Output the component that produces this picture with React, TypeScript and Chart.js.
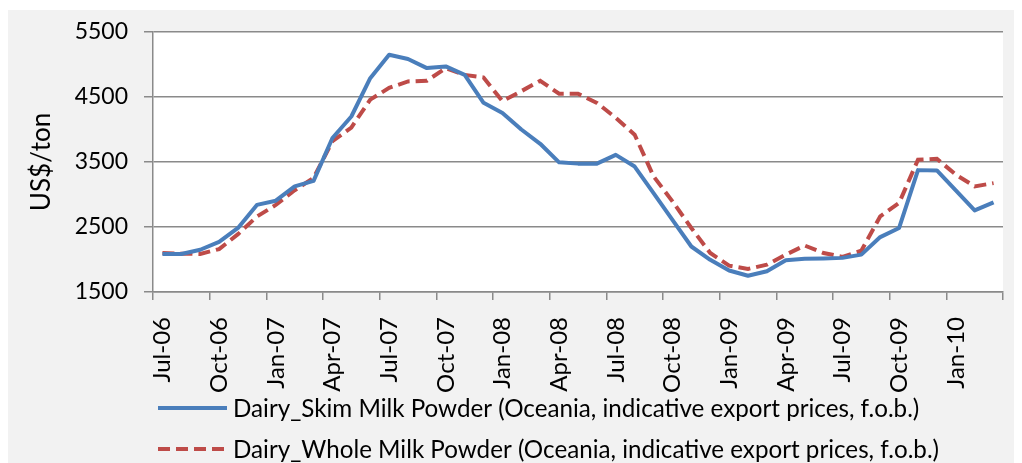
import React, { useEffect, useRef } from "react";
import { Chart, registerables } from "chart.js";

Chart.register(...registerables);

const months = [
  "Jul-06", "Aug-06", "Sep-06", "Oct-06", "Nov-06", "Dec-06",
  "Jan-07", "Feb-07", "Mar-07", "Apr-07", "May-07", "Jun-07",
  "Jul-07", "Aug-07", "Sep-07", "Oct-07", "Nov-07", "Dec-07",
  "Jan-08", "Feb-08", "Mar-08", "Apr-08", "May-08", "Jun-08",
  "Jul-08", "Aug-08", "Sep-08", "Oct-08", "Nov-08", "Dec-08",
  "Jan-09", "Feb-09", "Mar-09", "Apr-09", "May-09", "Jun-09",
  "Jul-09", "Aug-09", "Sep-09", "Oct-09", "Nov-09", "Dec-09",
  "Jan-10", "Feb-10", "Mar-10",
];

const skimMilkPowder = [
  2085, 2085, 2150, 2270, 2485, 2840, 2905, 3125, 3210, 3870,
  4200, 4790, 5150, 5085, 4945, 4970, 4840, 4410, 4255, 4000,
  3780, 3495, 3475, 3475, 3610, 3430, 3020, 2610, 2200, 1995,
  1830, 1750, 1820, 1990, 2010, 2015, 2025, 2075, 2345, 2485,
  3375, 3370, 3065, 2755, 2880,
];

const wholeMilkPowder = [
  2100, 2090, 2085, 2160, 2390, 2660, 2840, 3065, 3255, 3820,
  4030, 4460, 4640, 4740, 4750, 4945, 4840, 4800, 4435, 4590,
  4750, 4550, 4550, 4410, 4180, 3920, 3280, 2895, 2485, 2100,
  1905, 1855, 1920, 2075, 2215, 2100, 2040, 2135, 2665, 2870,
  3535, 3550, 3305, 3125, 3175,
];

const yTickValues = [1500, 2500, 3500, 4500, 5500];

const seriesNames = [
  "Dairy_Skim Milk Powder (Oceania, indicative export prices, f.o.b.)",
  "Dairy_Whole Milk Powder (Oceania, indicative export prices, f.o.b.)",
];

const yAxisTitle = "US$/ton";

const FONT = "Lato, 'Open Sans', sans-serif";
const GRID = "#8a8a8a";

const plotBackground = {
  id: "plotBackground",
  beforeDraw(chart: any) {
    const { ctx, chartArea } = chart;
    ctx.save();
    ctx.fillStyle = "#ffffff";
    ctx.fillRect(chartArea.left, chartArea.top, chartArea.right - chartArea.left, chartArea.bottom - chartArea.top);
    ctx.restore();
  },
};

const customLegend = {
  id: "customLegend",
  afterDraw(chart: any) {
    const { ctx } = chart;
    const startX = 150;
    const lineLen = 69;
    const textX = 225;
    const rowY = [398, 439];
    ctx.save();
    chart.data.datasets.forEach((ds: any, i: number) => {
      const y = rowY[i];
      ctx.beginPath();
      ctx.strokeStyle = ds.borderColor;
      ctx.lineWidth = ds.borderWidth;
      ctx.setLineDash(ds.borderDash || []);
      ctx.lineCap = "butt";
      ctx.moveTo(startX, y);
      ctx.lineTo(startX + lineLen, y);
      ctx.stroke();
      ctx.setLineDash([]);
      ctx.fillStyle = "#000000";
      ctx.font = `24.2px ${FONT}`;
      ctx.textBaseline = "middle";
      ctx.textAlign = "left";
      ctx.fillText(ds.label, textX, y + 1);
    });
    ctx.restore();
  },
};

export default function App() {
  const canvasRef = useRef<HTMLCanvasElement | null>(null);

  useEffect(() => {
    if (!canvasRef.current) return;
    const chart = new Chart(canvasRef.current, {
      type: "line",
      data: {
        labels: months,
        datasets: [
          {
            label: seriesNames[0],
            data: skimMilkPowder,
            borderColor: "#4A7EBB",
            backgroundColor: "#4A7EBB",
            borderWidth: 4,
            pointRadius: 0,
            tension: 0,
            borderJoinStyle: "round",
          },
          {
            label: seriesNames[1],
            data: wholeMilkPowder,
            borderColor: "#BE4B48",
            backgroundColor: "#BE4B48",
            borderWidth: 4,
            borderDash: [12, 6],
            pointRadius: 0,
            tension: 0,
          },
        ],
      },
      options: {
        animation: false,
        responsive: true,
        maintainAspectRatio: false,
        layout: { padding: { top: 22, right: 19, left: 0, bottom: 71 } },
        plugins: {
          legend: { display: false },
          tooltip: { enabled: false },
        },
        scales: {
          x: {
            type: "category",
            offset: true,
            afterFit(scale: any) {
              scale.height = 100;
              scale.paddingLeft = 0;
              scale.paddingRight = 0;
              scale.paddingTop = 0;
              scale.paddingBottom = 0;
            },
            grid: {
              display: true,
              offset: true,
              drawOnChartArea: false,
              drawTicks: true,
              tickLength: 8,
              lineWidth: 1.5,
              tickColor: (ctx: any) =>
                ctx.index === undefined || ctx.index % 3 === 0 ? GRID : "rgba(0,0,0,0)",
              color: GRID,
            },
            border: { display: true, color: GRID, width: 1.5 },
            ticks: {
              autoSkip: false,
              minRotation: 90,
              maxRotation: 90,
              padding: 17,
              color: "#000000",
              font: { family: FONT, size: 24 },
              callback: (_v: any, i: number) => (i % 3 === 0 ? months[i] : ""),
            },
          },
          y: {
            min: 1500,
            max: 5500,
            afterFit(scale: any) {
              scale.width = 145;
              scale.paddingLeft = 0;
              scale.paddingRight = 0;
              scale.paddingTop = 0;
              scale.paddingBottom = 0;
            },
            afterBuildTicks(scale: any) {
              scale.ticks = yTickValues.map((v) => ({ value: v }));
            },
            grid: {
              color: GRID,
              lineWidth: 1.5,
              drawTicks: true,
              tickLength: 9,
            },
            border: { display: true, color: GRID, width: 1.5 },
            ticks: {
              padding: 16,
              color: "#000000",
              font: { family: FONT, size: 23 },
              callback: (v: any) => String(v),
            },
            title: {
              display: true,
              text: yAxisTitle,
              color: "#000000",
              font: { family: FONT, size: 26 },
              padding: { top: 18, bottom: 0 },
            },
          },
        },
      },
      plugins: [plotBackground, customLegend],
    });
    return () => chart.destroy();
  }, []);

  return (
    <div style={{ width: 1014, height: 453, marginTop: 2, background: "#f2f2f2", position: "relative" }}>
      <canvas ref={canvasRef} />
    </div>
  );
}
